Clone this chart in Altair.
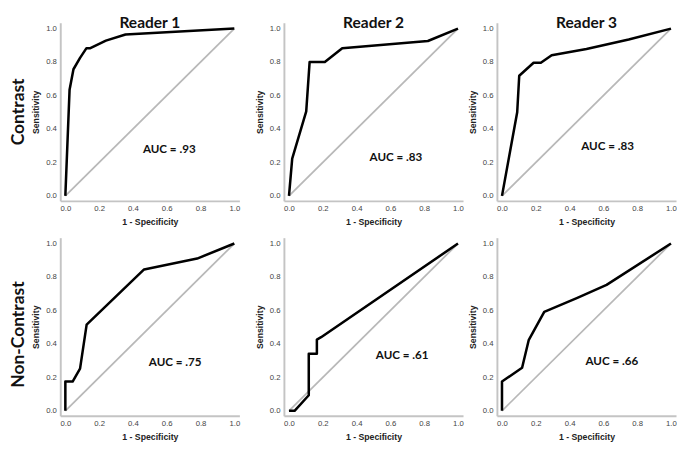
import altair as alt
import pandas as pd

readers = ["Reader 1", "Reader 2", "Reader 3"]
conditions = ["Contrast", "Non-Contrast"]
tick_values = [0.0, 0.2, 0.4, 0.6, 0.8, 1.0]

# ROC curve points (1 - specificity, sensitivity)
r1_con_fpr = [0.0, 0.025, 0.048, 0.087, 0.125, 0.148, 0.24, 0.356, 1.0]
r1_con_tpr = [0.0, 0.635, 0.757, 0.825, 0.883, 0.883, 0.928, 0.965, 1.0]
r2_con_fpr = [0.0, 0.019, 0.102, 0.122, 0.212, 0.315, 0.822, 1.0]
r2_con_tpr = [0.0, 0.223, 0.505, 0.80, 0.80, 0.883, 0.926, 1.0]
r3_con_fpr = [0.0, 0.09, 0.102, 0.187, 0.23, 0.294, 0.5, 0.75, 1.0]
r3_con_tpr = [0.0, 0.5, 0.718, 0.796, 0.796, 0.841, 0.878, 0.935, 1.0]
r1_non_fpr = [0.0, 0.0, 0.043, 0.087, 0.126, 0.466, 0.78, 1.0]
r1_non_tpr = [0.0, 0.175, 0.175, 0.252, 0.515, 0.845, 0.91, 1.0]
r2_non_fpr = [0.0, 0.033, 0.117, 0.117, 0.165, 0.165, 0.19, 1.0]
r2_non_tpr = [0.0, 0.0, 0.093, 0.341, 0.341, 0.426, 0.44, 1.0]
r3_non_fpr = [0.0, 0.0, 0.119, 0.158, 0.25, 0.446, 0.619, 1.0]
r3_non_tpr = [0.0, 0.175, 0.257, 0.422, 0.591, 0.675, 0.753, 1.0]

auc_labels = ["AUC = .93", "AUC = .83", "AUC = .83", "AUC = .75", "AUC = .61", "AUC = .66"]
auc_x = [0.615, 0.633, 0.625, 0.65, 0.67, 0.65]
auc_y = [0.28, 0.233, 0.297, 0.29, 0.335, 0.296]

curves = [
    (r1_con_fpr, r1_con_tpr), (r2_con_fpr, r2_con_tpr), (r3_con_fpr, r3_con_tpr),
    (r1_non_fpr, r1_non_tpr), (r2_non_fpr, r2_non_tpr), (r3_non_fpr, r3_non_tpr),
]

diag = pd.DataFrame({"x": [0.0, 1.0], "y": [0.0, 1.0]})

xs = alt.Scale(domain=[-0.03, 1.03], nice=False, zero=False)
ys = alt.Scale(domain=[-0.03, 1.035], nice=False, zero=False)

axis_common = dict(values=tick_values, format=".1f", labelOverlap=False,
                   labelSeparation=0, labelBound=False, labelFlush=False)


def panel(idx, title=None):
    fpr, tpr = curves[idx]
    df = pd.DataFrame({"x": fpr, "y": tpr, "i": list(range(len(fpr)))})
    xenc = alt.X("x:Q", scale=xs, axis=alt.Axis(title="1 - Specificity", **axis_common))
    yenc = alt.Y("y:Q", scale=ys, axis=alt.Axis(title="Sensitivity", **axis_common))
    d = alt.Chart(diag).mark_line(color="#b8b8b8", strokeWidth=1.8).encode(x=xenc, y=yenc)
    c = alt.Chart(df).mark_line(color="#000000", strokeWidth=2.6,
                                strokeJoin="round").encode(x=xenc, y=yenc, order="i:Q")
    t = alt.Chart(pd.DataFrame({"x": [auc_x[idx]], "y": [auc_y[idx]],
                                "label": [auc_labels[idx]]})).mark_text(
        font="Lato", fontSize=12, fontWeight="bold", color="#111"
    ).encode(x=xenc, y=yenc, text="label:N")
    ch = alt.layer(d, c, t).properties(width=185, height=184)
    if title:
        ch = ch.properties(title=alt.TitleParams(title, font="Lato", fontSize=16,
                                                 fontWeight="bold", color="#111",
                                                 frame="group", anchor="middle",
                                                 offset=-8))
    return ch


def row(start, label, top, shift):
    p = [panel(start + k, readers[k] if top else None) for k in range(3)]
    inner = alt.hconcat(p[0], p[1], spacing=15)
    return alt.hconcat(inner, p[2], spacing=4,
                       title=alt.TitleParams(label, orient="left", anchor="middle",
                                             font="Lato", fontSize=18, fontWeight="bold",
                                             color="#111", offset=4, dx=shift))


chart = alt.vconcat(row(0, conditions[0], True, 9), row(3, conditions[1], False, 5),
                    spacing=12).properties(padding={"left": 2, "top": 0, "right": 0, "bottom": 0})

chart = chart.configure_axis(
    domainColor="#c4c4c4", domainWidth=2, ticks=False, grid=False,
    labelFont="Liberation Sans", labelFontSize=8, labelColor="#444",
    labelPadding=4, labelOverlap=False, titleFont="Liberation Sans", titleFontSize=9,
    titleFontWeight="bold", titleColor="#222", titlePadding=5,
).configure_view(stroke=None)

chart.save("out.html", embed_options={"renderer": "svg", "actions": False})
